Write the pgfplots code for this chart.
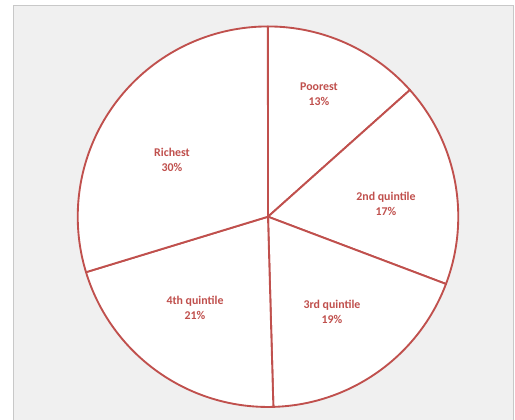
\documentclass[border=0pt]{standalone}
\usepackage{pgfplots}
\pgfplotsset{compat=1.18}
\usepackage{pgfplotstable}
\usepackage{fontspec}
\setmainfont{Carlito}
\definecolor{piered}{HTML}{C0504D}
\definecolor{panel}{HTML}{F0F0F0}
\definecolor{panelborder}{HTML}{C8C8C8}

% value = share (percent), pct = printed label, lx/ly = label centre (px, y from top)
\pgfplotstableread[col sep=comma]{
label,value,pct,lx,ly
Poorest,13.4,13,319,94
2nd quintile,17.35,17,386,204
3rd quintile,18.8,19,332,312
4th quintile,20.74,21,195,308
Richest,29.7,30,172,160
}\piedata

\begin{document}
\begin{tikzpicture}
\begin{axis}[
  x=0.75pt, y=0.75pt,
  xmin=0, xmax=515, ymin=0, ymax=419,
  hide axis,
]
\fill[white] (axis cs:0,0) rectangle (axis cs:515,419);
\filldraw[fill=panel, draw=panelborder, line width=0.75pt] (axis cs:13.5,-5) rectangle (axis cs:513.8,413.5);

\pgfplotstablegetrowsof{\piedata}
\pgfmathtruncatemacro\lastrow{\pgfplotsretval-1}
\def\startangle{90}
\pgfplotsforeachungrouped \i in {0,...,\lastrow}{%
  \pgfplotstablegetelem{\i}{value}\of\piedata
  \let\val\pgfplotsretval
  \pgfmathsetmacro\endangle{\startangle-3.6*\val}%
  \edef\cmd{\noexpand\filldraw[fill=white, draw=piered, line width=1.4pt, line join=round]
    (axis cs:268,202.3) -- ++(\startangle:142.7pt)
    arc[start angle=\startangle, end angle=\endangle, radius=142.7pt] -- cycle;}%
  \cmd
  \global\let\startangle\endangle
}
\pgfplotsforeachungrouped \i in {0,...,\lastrow}{%
  \pgfplotstablegetelem{\i}{label}\of\piedata
  \let\lab\pgfplotsretval
  \pgfplotstablegetelem{\i}{pct}\of\piedata
  \let\pc\pgfplotsretval
  \pgfplotstablegetelem{\i}{lx}\of\piedata
  \let\lx\pgfplotsretval
  \pgfplotstablegetelem{\i}{ly}\of\piedata
  \pgfmathsetmacro\lyy{419-\pgfplotsretval}%
  \edef\cmd{\noexpand\node[text=piered, align=center, inner sep=0pt,
    font=\noexpand\bfseries\noexpand\fontsize{8.9}{11.6}\noexpand\selectfont]
    at (axis cs:\lx,\lyy) {\lab\noexpand\\\pc\noexpand\%};}%
  \cmd
}
\end{axis}
\end{tikzpicture}
\end{document}
